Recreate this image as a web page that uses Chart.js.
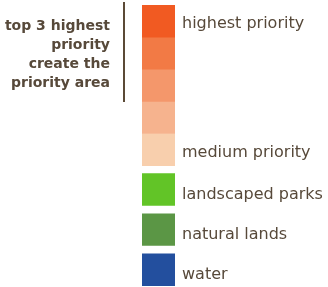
<!DOCTYPE html>
<html>
<head>
<meta charset="utf-8">
<script src="https://cdn.jsdelivr.net/npm/chart.js@4"></script>
<style>
  html, body { margin: 0; padding: 0; background: #fff; }
  #wrap { width: 328px; height: 287px; }
</style>
</head>
<body>
<div id="wrap"><canvas id="legendChart" width="328" height="287"></canvas></div>
<script>
const C_TEXT = '#57493a';

// priority ramp, top to bottom
const priorityLabels = ['highest priority', '', '', '', 'medium priority'];
const priorityColors = ['#f15a22', '#f27a45', '#f4976b', '#f6b38e', '#f8cfad'];

// land cover classes
const landLabels = ['landscaped parks', 'natural lands', 'water'];
const landColors = ['#62c427', '#5b9645', '#234f9e'];

const noteLines = ['top 3 highest', 'priority', 'create the', 'priority area'];

const GAP = 0.25; // space above each land swatch, in rows

const datasets = [];
const tickVals = [];
const tickText = {};
let pos = 0;
priorityLabels.forEach((lbl, i) => {
    datasets.push({
        label: lbl || 'priority ' + (i + 1),
        data: [1],
        backgroundColor: priorityColors[i],
        borderWidth: 0
    });
    if (lbl) { tickVals.push(pos + 0.6); tickText[pos + 0.6] = lbl; }
    pos += 1;
});
landLabels.forEach((lbl, i) => {
    datasets.push({
        label: lbl,
        data: [1 + GAP],
        backgroundColor: landColors[i],
        borderColor: 'rgba(0,0,0,0)',
        borderWidth: {top: 8, bottom: 0, left: 0, right: 0},
        borderSkipped: false
    });
    const c = pos + GAP + 0.65;
    tickVals.push(c);
    tickText[c] = lbl;
    pos += 1 + GAP;
});

// note on the left with the rule next to it
const notePlugin = {
    id: 'note',
    afterDraw(chart) {
        const ctx = chart.ctx;
        ctx.save();
        ctx.fillStyle = C_TEXT;
        ctx.font = 'bold 14px "DejaVu Sans"';
        ctx.textAlign = 'right';
        ctx.textBaseline = 'middle';
        noteLines.forEach((t, i) => ctx.fillText(t, 110, 26 + i * 19));
        ctx.strokeStyle = '#5b4a36';
        ctx.lineWidth = 2;
        ctx.beginPath();
        ctx.moveTo(124, 2);
        ctx.lineTo(124, 102);
        ctx.stroke();
        ctx.restore();
    }
};

const legendChart = new Chart(
    document.getElementById('legendChart'),
    {
        type: 'bar',
        data: {
            labels: ['legend'],
            datasets: datasets
        },
        options: {
            animation: false,
            responsive: false,
            layout: { padding: { left: 142, top: 5, bottom: 1, right: 0 } },
            datasets: { bar: { barPercentage: 1, categoryPercentage: 1 } },
            plugins: { legend: { display: false }, tooltip: { enabled: false } },
            scales: {
                x: { stacked: true, display: false },
                y: {
                    stacked: true,
                    reverse: true,
                    min: 0,
                    max: pos,
                    position: 'right',
                    grid: { display: false, drawTicks: false },
                    border: { display: false },
                    afterBuildTicks: (scale) => {
                        scale.ticks = tickVals.map(v => ({ value: v }));
                    },
                    afterFit: (scale) => {
                        scale.width = 153;
                        scale.paddingTop = 0;
                        scale.paddingBottom = 0;
                    },
                    ticks: {
                        autoSkip: false,
                        padding: 7,
                        color: C_TEXT,
                        font: { family: 'DejaVu Sans', size: 16 },
                        callback: (v) => tickText[v] || ''
                    }
                }
            }
        },
        plugins: [notePlugin]
    });
</script>
</body>
</html>
